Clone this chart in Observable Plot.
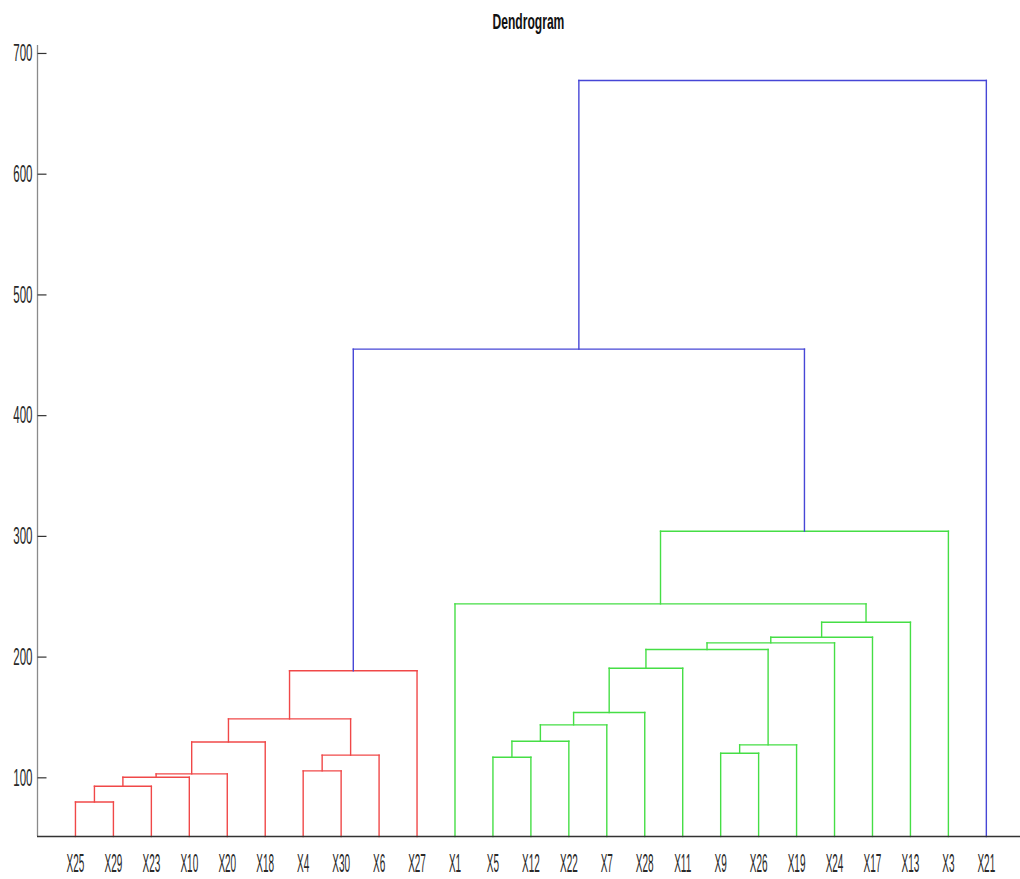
<!DOCTYPE html>
<html>
<head>
<meta charset="utf-8">
<script src="https://cdn.jsdelivr.net/npm/d3@7"></script>
<script src="https://cdn.jsdelivr.net/npm/@observablehq/plot@0.6"></script>
<style>
  html, body { margin: 0; padding: 0; background: #fff; }
  #title { width: 1020px; height: 40px; box-sizing: border-box; padding-left: 37px; text-align: center;
           font-family: "Liberation Sans", Arial, sans-serif; font-weight: bold; font-size: 22px; line-height: 22px; padding-top: 11px; color: #111; }
  #title span { display: inline-block; transform: scaleX(0.55); }
  svg { display: block; }
</style>
</head>
<body>
<div id="title"><span>Dendrogram</span></div>
<div id="chart"></div>
<script>
// Leaf order along the x axis
const leaves = ["X25","X29","X23","X10","X20","X18","X4","X30","X6","X27",
                "X1","X5","X12","X22","X7","X28","X11","X9","X26","X19",
                "X24","X17","X13","X3","X21"];

// Merges: name, left child, right child, height, cluster
const mergeName   = ["r1","r2","r3","r4","r5","r6","r7","r8","r9",
                     "g1","g2","g3","g4","g5","g6","g7","g8","g9","g10","g11","g12","g13",
                     "b1","b2"];
const mergeLeft   = ["X25","r1","r2","r3","r4","X4","r6","r5","r8",
                     "X5","g1","g2","g3","g4","X9","g6","g5","g8","g9","g10","X1","g12",
                     "r9","b1"];
const mergeRight  = ["X29","X23","X10","X20","X18","X30","X6","r7","X27",
                     "X12","X22","X7","X28","X11","X26","X19","g7","X24","X17","X13","g11","X3",
                     "g13","X21"];
const mergeHeight = [80, 93, 100.5, 103.3, 129.7, 105.8, 118.8, 148.8, 188.7,
                     117.1, 130.3, 143.9, 154.1, 190.8, 120.4, 127.3, 206.3, 211.8, 216.5, 228.9, 244.1, 304.3,
                     455.1, 677.6];
const mergeCluster = ["red","red","red","red","red","red","red","red","red",
                      "green","green","green","green","green","green","green","green","green","green","green","green","green",
                      "blue","blue"];

const clusterColors = {red: "#f04848", green: "#45de45", blue: "#4646d6"};
const yTicks = [100, 200, 300, 400, 500, 600, 700];
const yMin = 51.4, yMax = 706.6;

// Build link segments
const pos = {};
leaves.forEach((l, i) => pos[l] = {x: i, h: yMin});
const segs = [];
mergeName.forEach((name, k) => {
  const a = pos[mergeLeft[k]], b = pos[mergeRight[k]], H = mergeHeight[k], c = mergeCluster[k];
  segs.push({x1: a.x, y1: a.h, x2: a.x, y2: H, c});
  segs.push({x1: b.x, y1: b.h, x2: b.x, y2: H, c});
  segs.push({x1: a.x, y1: H, x2: b.x, y2: H, c});
  pos[name] = {x: (a.x + b.x) / 2, h: H};
});

const tickSymbol = {draw(ctx) { ctx.moveTo(0, 0); ctx.lineTo(9, 0); }};

const chart = Plot.plot({
  width: 1020,
  height: 839,
  marginTop: 5,
  marginBottom: 43,
  marginLeft: 37,
  marginRight: 0,
  style: {fontFamily: "'Liberation Sans', Arial, sans-serif", background: "#fff", overflow: "visible"},
  x: {domain: [-1, 24.9], axis: null},
  y: {domain: [yMin, yMax], axis: null},
  marks: [
    Plot.link(segs, {x1: "x1", y1: "y1", x2: "x2", y2: "y2",
      stroke: d => clusterColors[d.c], strokeWidth: 1.4, strokeLinecap: "square"}),
    Plot.ruleX([-1], {y1: yMin, y2: yMax, stroke: "#8a8a8a", strokeWidth: 1.3}),
    Plot.ruleY([yMin], {stroke: "#333", strokeWidth: 1.3}),
    Plot.dot(yTicks, {y: d => d, frameAnchor: "left", symbol: tickSymbol, stroke: "#333", fill: "none", strokeWidth: 1.2}),
    Plot.text(yTicks, {y: d => d, frameAnchor: "left", dx: -5, textAnchor: "end", text: d => String(d),
      fontSize: 24, fill: "#2a2a2a", className: "ylab"}),
    Plot.text(leaves, {x: (d, i) => i, frameAnchor: "bottom", dy: 27, lineAnchor: "middle", text: d => d,
      fontSize: 25, fill: "#2a2a2a", className: "xlab"})
  ]
});
document.getElementById("chart").appendChild(chart);

// Condense the label glyphs horizontally (narrow font look)
function condense(sel, s, size) {
  chart.querySelectorAll(sel).forEach(el => {
    const t = el.getAttribute("transform") || "";
    el.setAttribute("transform", `${t} scale(${s},1)`);
    el.style.fontSize = size + "px";
  });
}
condense(".ylab text", 0.48, 24);
condense(".xlab text", 0.40, 25);
</script>
</body>
</html>
